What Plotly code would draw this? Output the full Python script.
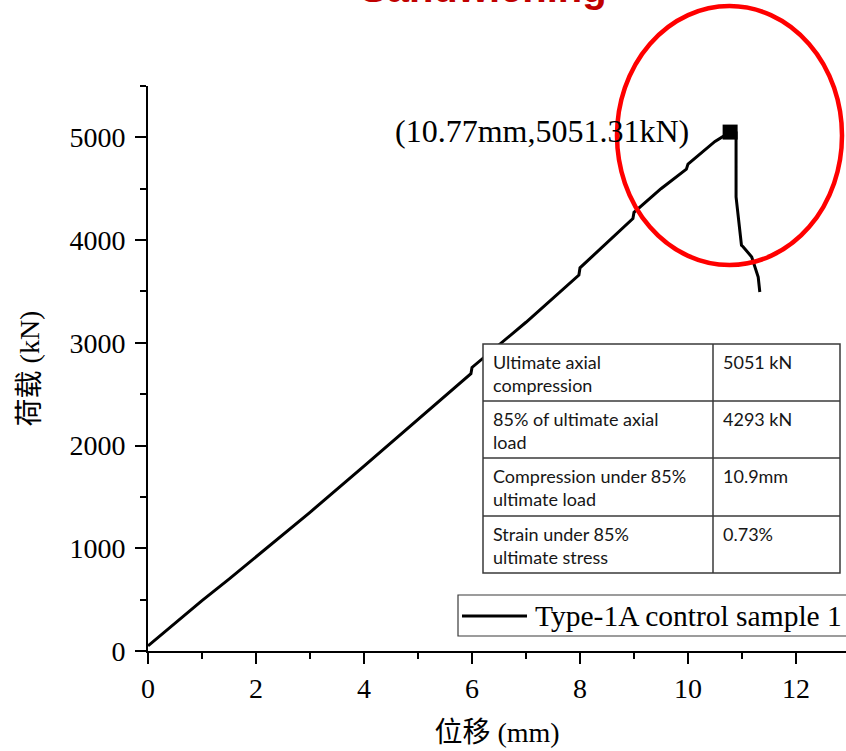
import plotly.graph_objects as go

# ---- data ----
disp_mm = [0.0, 0.5, 1.0, 1.5, 2.0, 3.0, 4.0, 5.0, 5.98, 6.0, 7.0, 7.98, 8.0,
           8.98, 9.0, 9.5, 9.97, 10.0, 10.5, 10.78, 10.89, 10.89, 10.99, 11.02,
           11.18, 11.30, 11.33]
load_kn = [50, 270, 490, 700, 915, 1350, 1800, 2250, 2700, 2760, 3200, 3660, 3730,
           4210, 4270, 4500, 4690, 4740, 4960, 5051, 5045, 4420, 3950, 3935,
           3836, 3641, 3495]
peak_x = [10.78]
peak_y = [5051.31]
peak_label = "(10.77mm,5051.31kN)"
series_name = "Type-1A control sample 1"
title_text = "Sandwiching"
table_rows = [
    ("Ultimate axial<br>compression", "5051 kN"),
    ("85% of ultimate axial<br>load", "4293 kN"),
    ("Compression under 85%<br>ultimate load", "10.9mm"),
    ("Strain under 85%<br>ultimate stress", "0.73%"),
]
x_ticks = [0, 2, 4, 6, 8, 10, 12]
y_ticks = [0, 1000, 2000, 3000, 4000, 5000]

# ---- layout geometry (pixels) ----
W, H = 846, 751
L, R, T, B = 148, 846, 86, 651   # plot area in px

def px(xp):
    return (xp - L) / (R - L)

def py(yp):
    return (B - yp) / (B - T)

serif = "Liberation Serif, Times New Roman, Noto Sans CJK SC, serif"

fig = go.Figure()
fig.add_trace(go.Scatter(x=disp_mm, y=load_kn, mode="lines", name=series_name,
                         line=dict(color="black", width=3), showlegend=False))
fig.add_trace(go.Scatter(x=peak_x, y=peak_y, mode="markers", showlegend=False,
                         marker=dict(symbol="square", size=15, color="black")))

axis_common = dict(showgrid=False, zeroline=False, showline=True, linecolor="black",
                   linewidth=2, ticks="outside", ticklen=11, tickwidth=2,
                   tickcolor="black", tickfont=dict(family=serif, size=28, color="black"),
                   mirror=False)

fig.update_xaxes(range=[0, (R - L) / 54.0], tickvals=x_ticks,
                 minor=dict(dtick=1, ticks="outside", ticklen=6, tickwidth=2, tickcolor="black"),
                 title=dict(text="位移 (mm)", font=dict(family=serif, size=28, color="black"), standoff=20),
                 **axis_common)
fig.update_yaxes(range=[0, 5500], tickvals=y_ticks,
                 minor=dict(dtick=500, ticks="outside", ticklen=6, tickwidth=2, tickcolor="black"),
                 title=dict(text="荷载 (kN)", font=dict(family=serif, size=28, color="black"), standoff=22),
                 ticklabelstandoff=4,
                 **axis_common)

shapes = []
annotations = []

# red ellipse
shapes.append(dict(type="circle", xref="paper", yref="paper",
                   x0=px(617), x1=px(842), y0=py(265), y1=py(6),
                   line=dict(color="#ff0000", width=4.5)))

# peak label
annotations.append(dict(x=px(691), y=py(131), xref="paper", yref="paper",
                        xanchor="right", yanchor="middle", showarrow=False,
                        text=peak_label, font=dict(family=serif, size=32, color="black")))

# title (cut at the top, as in the reference)
annotations.append(dict(x=px(483), y=py(-12), xref="paper", yref="paper",
                        xanchor="center", yanchor="middle", showarrow=False,
                        text="<b>" + title_text + "</b>",
                        font=dict(family="Liberation Sans, Arial, sans-serif", size=40, color="#c00000")))

# table
tl, tm, tr = 483, 713, 840
row_edges = [344, 401, 458, 516, 573]
gray = "#3a3a3a"
shapes.append(dict(type="rect", xref="paper", yref="paper", x0=px(tl), x1=px(tr),
                   y0=py(row_edges[-1]), y1=py(row_edges[0]),
                   line=dict(color=gray, width=1.5), fillcolor="white", layer="above"))
for ye in row_edges[1:-1]:
    shapes.append(dict(type="line", xref="paper", yref="paper", x0=px(tl), x1=px(tr),
                       y0=py(ye), y1=py(ye), line=dict(color=gray, width=1.5)))
shapes.append(dict(type="line", xref="paper", yref="paper", x0=px(tm), x1=px(tm),
                   y0=py(row_edges[-1]), y1=py(row_edges[0]), line=dict(color=gray, width=1.5)))
tfont = dict(family="Lato, Carlito, Calibri, sans-serif", size=18, color="#161616")
for i, (lab, val) in enumerate(table_rows):
    ytop = row_edges[i] + 5
    annotations.append(dict(x=px(491), y=py(ytop), xref="paper", yref="paper",
                            xanchor="left", yanchor="top", align="left", showarrow=False,
                            text=lab, font=tfont))
    annotations.append(dict(x=px(721), y=py(ytop), xref="paper", yref="paper",
                            xanchor="left", yanchor="top", align="left", showarrow=False,
                            text=val, font=tfont))

# legend box (drawn manually to match the long line sample)
shapes.append(dict(type="rect", xref="paper", yref="paper", x0=px(458), x1=px(900),
                   y0=py(636), y1=py(595), line=dict(color=gray, width=1.2),
                   fillcolor="white", layer="above"))
shapes.append(dict(type="line", xref="paper", yref="paper", x0=px(462), x1=px(527),
                   y0=py(616), y1=py(616), line=dict(color="black", width=3)))
annotations.append(dict(x=px(533), y=py(616), xref="paper", yref="paper",
                        xanchor="left", yanchor="middle", showarrow=False,
                        text=series_name, font=dict(family=serif, size=29.5, color="black")))

fig.update_layout(width=W, height=H, margin=dict(l=L, r=W - R, t=T, b=H - B),
                  paper_bgcolor="white", plot_bgcolor="white",
                  shapes=shapes, annotations=annotations, showlegend=False)

fig.write_html("out.html")
